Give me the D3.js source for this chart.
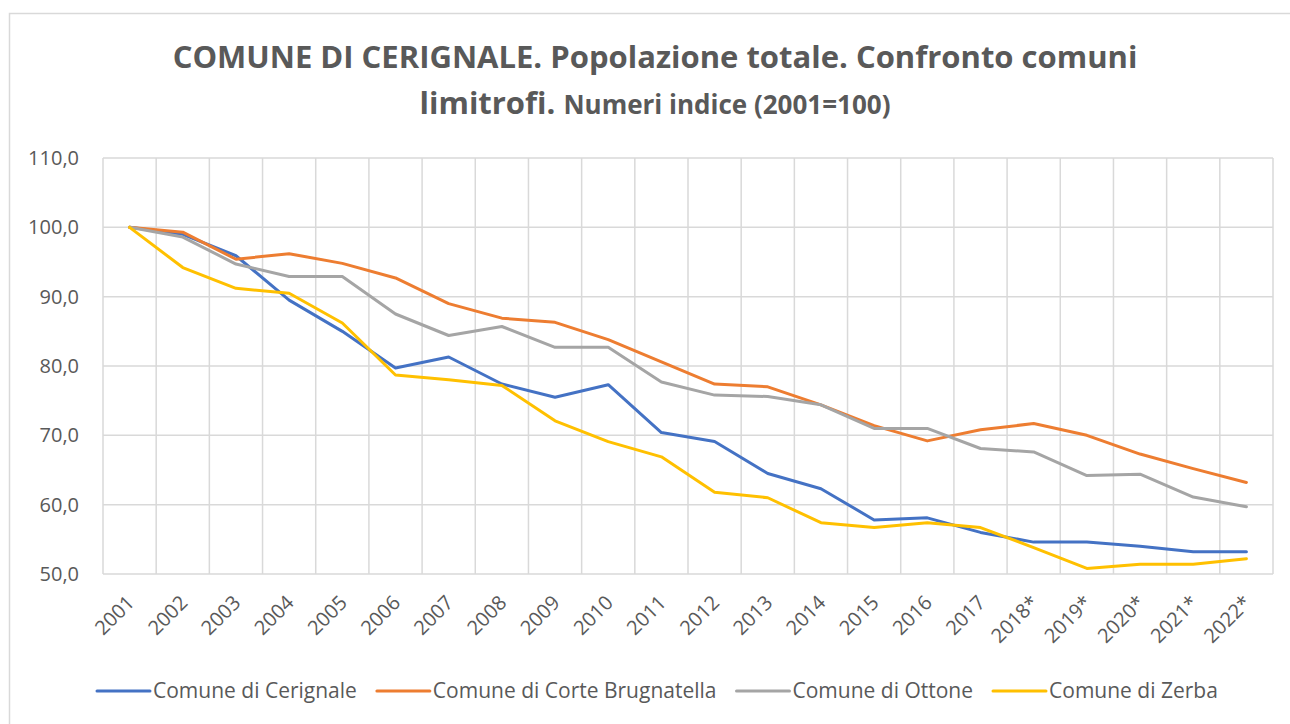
<!DOCTYPE html>
<html>
<head>
<meta charset="utf-8">
<script src="https://cdn.jsdelivr.net/npm/d3@7"></script>
<style>
  body { margin: 0; background: #fff; }
  text { font-family: "Open Sans", sans-serif; fill: #595959; }
</style>
</head>
<body>
<script>
var years = ["2001","2002","2003","2004","2005","2006","2007","2008","2009","2010","2011",
             "2012","2013","2014","2015","2016","2017","2018*","2019*","2020*","2021*","2022*"];

var cerignale = [100, 99.0, 95.9, 89.5, 85.0, 79.7, 81.3, 77.4, 75.5, 77.3, 70.4,
                 69.1, 64.5, 62.3, 57.8, 58.1, 56.0, 54.6, 54.6, 54.0, 53.2, 53.2];
var corteBrugnatella = [100, 99.3, 95.4, 96.2, 94.8, 92.7, 89.0, 86.9, 86.3, 83.8, 80.6,
                        77.4, 77.0, 74.4, 71.4, 69.2, 70.8, 71.7, 70.0, 67.3, 65.2, 63.2];
var ottone = [100, 98.6, 94.7, 92.9, 92.9, 87.5, 84.4, 85.7, 82.7, 82.7, 77.7,
              75.8, 75.6, 74.4, 71.0, 71.0, 68.1, 67.6, 64.2, 64.4, 61.1, 59.7];
var zerba = [100, 94.2, 91.2, 90.5, 86.2, 78.7, 78.0, 77.2, 72.1, 69.1, 66.9,
             61.8, 61.0, 57.4, 56.7, 57.4, 56.7, 53.8, 50.8, 51.4, 51.4, 52.2];

var seriesNames = ["Comune di Cerignale", "Comune di Corte Brugnatella", "Comune di Ottone", "Comune di Zerba"];
var seriesValues = [cerignale, corteBrugnatella, ottone, zerba];
var colors = ["#4472C4", "#ED7D31", "#A5A5A5", "#FFC000"];
var yTicks = [50, 60, 70, 80, 90, 100, 110];

var W = 1290, H = 724;
var plot = { left: 103, right: 1273, top: 158, bottom: 574 };

var svg = d3.select("body").append("svg")
    .attr("width", W)
    .attr("height", H);

// chart border
svg.append("rect")
    .attr("x", 9.5).attr("y", 13.5)
    .attr("width", W + 10).attr("height", H + 10)
    .attr("fill", "none")
    .attr("stroke", "#d9d9d9")
    .attr("stroke-width", 1.5);

// title
var title = svg.append("text")
    .attr("text-anchor", "middle")
    .style("font-weight", "bold");
title.append("tspan")
    .attr("x", 655).attr("y", 68)
    .style("font-size", "31px")
    .text("COMUNE DI CERIGNALE. Popolazione totale. Confronto comuni");
title.append("tspan")
    .attr("x", 655).attr("y", 114)
    .style("font-size", "31px")
    .text("limitrofi. ")
  .append("tspan")
    .style("font-size", "26px")
    .text("Numeri indice (2001=100)");

var xScale = d3.scaleBand()
    .domain(years)
    .range([plot.left, plot.right]);

var yScale = d3.scaleLinear()
    .domain([50, 110])
    .range([plot.bottom, plot.top]);

// horizontal gridlines
svg.append("g")
    .selectAll("line")
    .data(yTicks)
    .enter()
    .append("line")
    .attr("x1", plot.left).attr("x2", plot.right)
    .attr("y1", function(d) { return yScale(d); })
    .attr("y2", function(d) { return yScale(d); })
    .attr("stroke", "#d9d9d9")
    .attr("stroke-width", 1.5);

// vertical gridlines at category boundaries
var bounds = years.map(function(d) { return xScale(d); }).concat([plot.right]);
svg.append("g")
    .selectAll("line")
    .data(bounds)
    .enter()
    .append("line")
    .attr("x1", function(d) { return d; })
    .attr("x2", function(d) { return d; })
    .attr("y1", plot.top).attr("y2", plot.bottom)
    .attr("stroke", "#d9d9d9")
    .attr("stroke-width", 1.5);

// y axis labels
var yAxis = svg.append("g")
    .attr("transform", "translate(" + (plot.left - 21) + ",0)")
    .call(d3.axisLeft(yScale)
        .tickValues(yTicks)
        .tickSize(0)
        .tickFormat(function(d) { return d3.format(".1f")(d).replace(".", ","); }));
yAxis.select(".domain").remove();
yAxis.selectAll("text")
    .style("font-size", "20px")
    .attr("fill", "#595959");

// x axis labels
var xAxis = svg.append("g")
    .attr("transform", "translate(0," + plot.bottom + ")")
    .call(d3.axisBottom(xScale).tickSize(0));
xAxis.select(".domain").remove();
xAxis.selectAll("text")
    .style("font-size", "20px")
    .attr("fill", "#595959")
    .attr("text-anchor", "end")
    .attr("dy", 0)
    .attr("y", 0)
    .attr("transform", "translate(6,30) rotate(-45)");

// lines
var line = d3.line()
    .x(function(d, i) { return xScale(years[i]) + xScale.bandwidth() / 2; })
    .y(function(d) { return yScale(d); });

svg.append("g")
    .selectAll("path")
    .data(seriesValues)
    .enter()
    .append("path")
    .attr("d", function(d) { return line(d); })
    .attr("fill", "none")
    .attr("stroke", function(d, i) { return colors[i]; })
    .attr("stroke-width", 3)
    .attr("stroke-linejoin", "round")
    .attr("stroke-linecap", "round");

// legend
var legend = svg.append("g").attr("transform", "translate(0,691)");
var lx = 97;
seriesNames.forEach(function(name, i) {
  legend.append("line")
      .attr("x1", lx).attr("x2", lx + 53)
      .attr("y1", 0).attr("y2", 0)
      .attr("stroke", colors[i])
      .attr("stroke-width", 3)
      .attr("stroke-linecap", "round");
  var t = legend.append("text")
      .attr("x", lx + 56).attr("y", 7)
      .style("font-size", "21px")
      .text(name);
  lx += 56 + t.node().getComputedTextLength() + 20;
});
</script>
</body>
</html>
